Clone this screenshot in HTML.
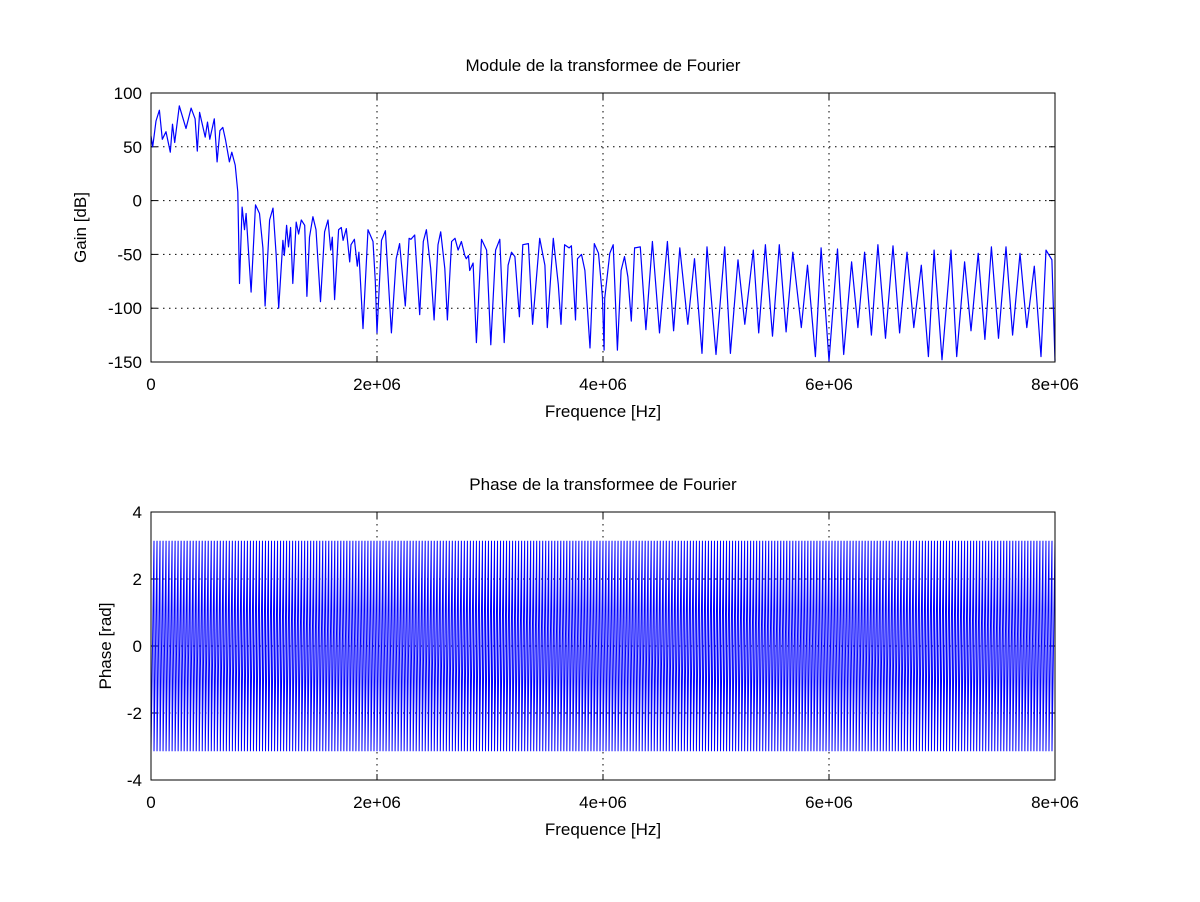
<!DOCTYPE html>
<html><head><meta charset="utf-8"><style>
body{margin:0;background:#fff;}
svg{display:block;font-family:"Liberation Sans",sans-serif;}
</style></head><body>
<svg id="fig" width="1200" height="902" viewBox="0 0 1200 902" xmlns="http://www.w3.org/2000/svg"></svg>
<script>
// Gain data (frequency in MHz, gain in dB)
const gainFreq = [0,0.015,0.044,0.074,0.10,0.133,0.171,0.19,0.21,0.25,0.31,0.355,0.39,0.41,0.43,0.48,0.50,0.52,0.56,0.585,0.61,0.635,0.66,0.694,0.715,0.745,0.768,0.783,0.806,0.827,0.842,0.886,0.925,0.96,0.99,1.01,1.05,1.08,1.108,1.13,1.167,1.18,1.2,1.217,1.235,1.255,1.285,1.306,1.33,1.36,1.38,1.403,1.433,1.46,1.5,1.536,1.566,1.59,1.604,1.625,1.66,1.684,1.70,1.728,1.758,1.77,1.80,1.826,1.84,1.876,1.92,1.965,1.985,2.0,2.04,2.074,2.127,2.17,2.2,2.25,2.284,2.30,2.334,2.378,2.41,2.437,2.475,2.505,2.54,2.564,2.6,2.623,2.66,2.69,2.718,2.747,2.777,2.79,2.81,2.82,2.85,2.88,2.925,2.97,3.007,3.05,3.087,3.126,3.16,3.19,3.22,3.26,3.29,3.34,3.377,3.44,3.486,3.507,3.56,3.604,3.628,3.66,3.70,3.72,3.757,3.774,3.81,3.84,3.885,3.923,3.96,3.995,4.01,4.015,4.06,4.09,4.127,4.16,4.19,4.22,4.25,4.28,4.33,4.38,4.437,4.5,4.57,4.625,4.68,4.75,4.81,4.876,4.92,5.0,5.077,5.127,5.195,5.255,5.33,5.378,5.437,5.5,5.56,5.62,5.68,5.755,5.81,5.88,5.93,6.0,6.075,6.13,6.2,6.256,6.315,6.375,6.433,6.5,6.566,6.625,6.69,6.75,6.817,6.88,6.93,7.0,7.08,7.13,7.2,7.257,7.32,7.38,7.437,7.5,7.566,7.625,7.69,7.75,7.817,7.876,7.92,7.973,8.0];
const gainDb = [60,50,74,84,57,64,45,71,54,88,67,86,76,46,82,59,73,57,76,36,65,68,56,36,45,33,8,-77,-6,-27,-12,-85,-4,-12,-44,-98,-18,-7,-51,-100,-37,-51,-23,-43,-25,-77,-20,-31,-18,-23,-89,-34,-15,-27,-94,-29,-18,-46,-34,-92,-27,-25,-37,-26,-57,-41,-36,-61,-48,-119,-27,-38,-75,-123,-37,-28,-123,-54,-40,-98,-35,-36,-32,-106,-38,-27,-63,-111,-41,-29,-63,-111,-38,-35,-46,-38,-51,-54,-51,-65,-58,-132,-36,-46,-134,-46,-36,-132,-60,-48,-52,-108,-41,-40,-115,-35,-60,-118,-35,-78,-115,-41,-44,-42,-111,-54,-50,-65,-137,-40,-49,-89,-139,-91,-49,-41,-139,-65,-52,-71,-112,-44,-43,-120,-38,-123,-38,-121,-44,-115,-54,-142,-43,-143,-43,-142,-55,-115,-46,-123,-41,-126,-41,-122,-48,-118,-60,-145,-44,-149,-45,-143,-57,-118,-48,-125,-41,-128,-42,-123,-48,-118,-60,-145,-46,-148,-46,-145,-57,-121,-49,-129,-43,-128,-43,-125,-49,-118,-61,-145,-46,-55,-149];
// Phase data: wrapped sawtooth
const phaseRamp = [-3.14, 3.14];
const phaseCycles = 300;
const fMaxMHz = 8;
const xTickVals = [0,2,4,6,8];
const xTickLabels = ["0","2e+06","4e+06","6e+06","8e+06"];
const gainTicks = [100,50,0,-50,-100,-150];
const phaseTicks = [4,2,0,-2,-4];

const NS="http://www.w3.org/2000/svg";
const svg=document.getElementById('fig');
function mk(tag,attrs,parent){const e=document.createElementNS(NS,tag);for(const k in attrs)e.setAttribute(k,attrs[k]);(parent||svg).appendChild(e);return e;}
const L=151,R=1055;
const xs=f=>L+(f/fMaxMHz)*(R-L);

function axes(name,top,bot,ymin,ymax,ticks,title,ylabel,ylx){
  const ys=v=>bot-(v-ymin)/(ymax-ymin)*(bot-top);
  const g=mk('g',{});
  
  
  ticks.forEach(t=>{
    const y=ys(t);
    if(t!==ymin&&t!==ymax){const gl=mk('line',{x1:L,x2:R,y1:y,y2:y,stroke:'#000','stroke-width':1,'stroke-dasharray':'1.5,4.5'},g);
      }
    mk('line',{x1:L,x2:L+6,y1:y,y2:y,stroke:'#000'},g);
    mk('line',{x1:R-6,x2:R,y1:y,y2:y,stroke:'#000'},g);
    const tl=mk('text',{x:L-9,y:y+6,'text-anchor':'end','font-size':17},g);tl.textContent=String(t);
    
  });
  xTickVals.forEach((v,i)=>{
    const x=xs(v);
    if(i>0&&i<xTickVals.length-1){const gl=mk('line',{x1:x,x2:x,y1:top,y2:bot,stroke:'#000','stroke-width':1,'stroke-dasharray':'1.5,4.5'},g);
      }
    mk('line',{x1:x,x2:x,y1:bot,y2:bot-6,stroke:'#000'},g);
    mk('line',{x1:x,x2:x,y1:top,y2:top+6,stroke:'#000'},g);
    const tl=mk('text',{x:x,y:bot+28,'text-anchor':'middle','font-size':17},g);tl.textContent=xTickLabels[i];
    
  });
  const t=mk('text',{x:(L+R)/2,y:top-22,'text-anchor':'middle','font-size':17},g);t.textContent=title;
  
  const xl=mk('text',{x:(L+R)/2,y:bot+55,'text-anchor':'middle','font-size':17},g);xl.textContent='Frequence [Hz]';
  
  const cy=(top+bot)/2;
  const yl=mk('text',{x:ylx,y:cy,'text-anchor':'middle','font-size':17,transform:`rotate(-90 ${ylx} ${cy})`},g);yl.textContent=ylabel;
  
  return {ys,g,top,bot};
}

// Top chart
const A=axes('gain',93,362,-150,100,gainTicks,'Module de la transformee de Fourier','Gain [dB]',86);
let d='';gainFreq.forEach((f,i)=>{d+=(i?'L':'M')+xs(f).toFixed(1)+','+A.ys(gainDb[i]).toFixed(1);});
const p1=mk('path',{d:d,fill:'none',stroke:'#0000ff','stroke-width':1.2,'stroke-linejoin':'round'});


mk('rect',{x:L,y:93,width:R-L,height:362-93,fill:'none',stroke:'#000','stroke-width':1});

// Bottom chart
const B=axes('phase',512,780,-4,4,phaseTicks,'Phase de la transformee de Fourier','Phase [rad]',111);
let d2='';
for(let c=0;c<phaseCycles;c++){
  const f0=c/phaseCycles*fMaxMHz, f1=(c+1)/phaseCycles*fMaxMHz;
  d2+=(c?'L':'M')+xs(f0).toFixed(2)+','+B.ys(phaseRamp[0]).toFixed(1)+'L'+xs(f1).toFixed(2)+','+B.ys(phaseRamp[1]).toFixed(1);
}
const p2=mk('path',{d:d2,fill:'none',stroke:'#0000ff','stroke-width':1});


mk('rect',{x:L,y:512,width:R-L,height:780-512,fill:'none',stroke:'#000','stroke-width':1});
</script>
</body></html>
